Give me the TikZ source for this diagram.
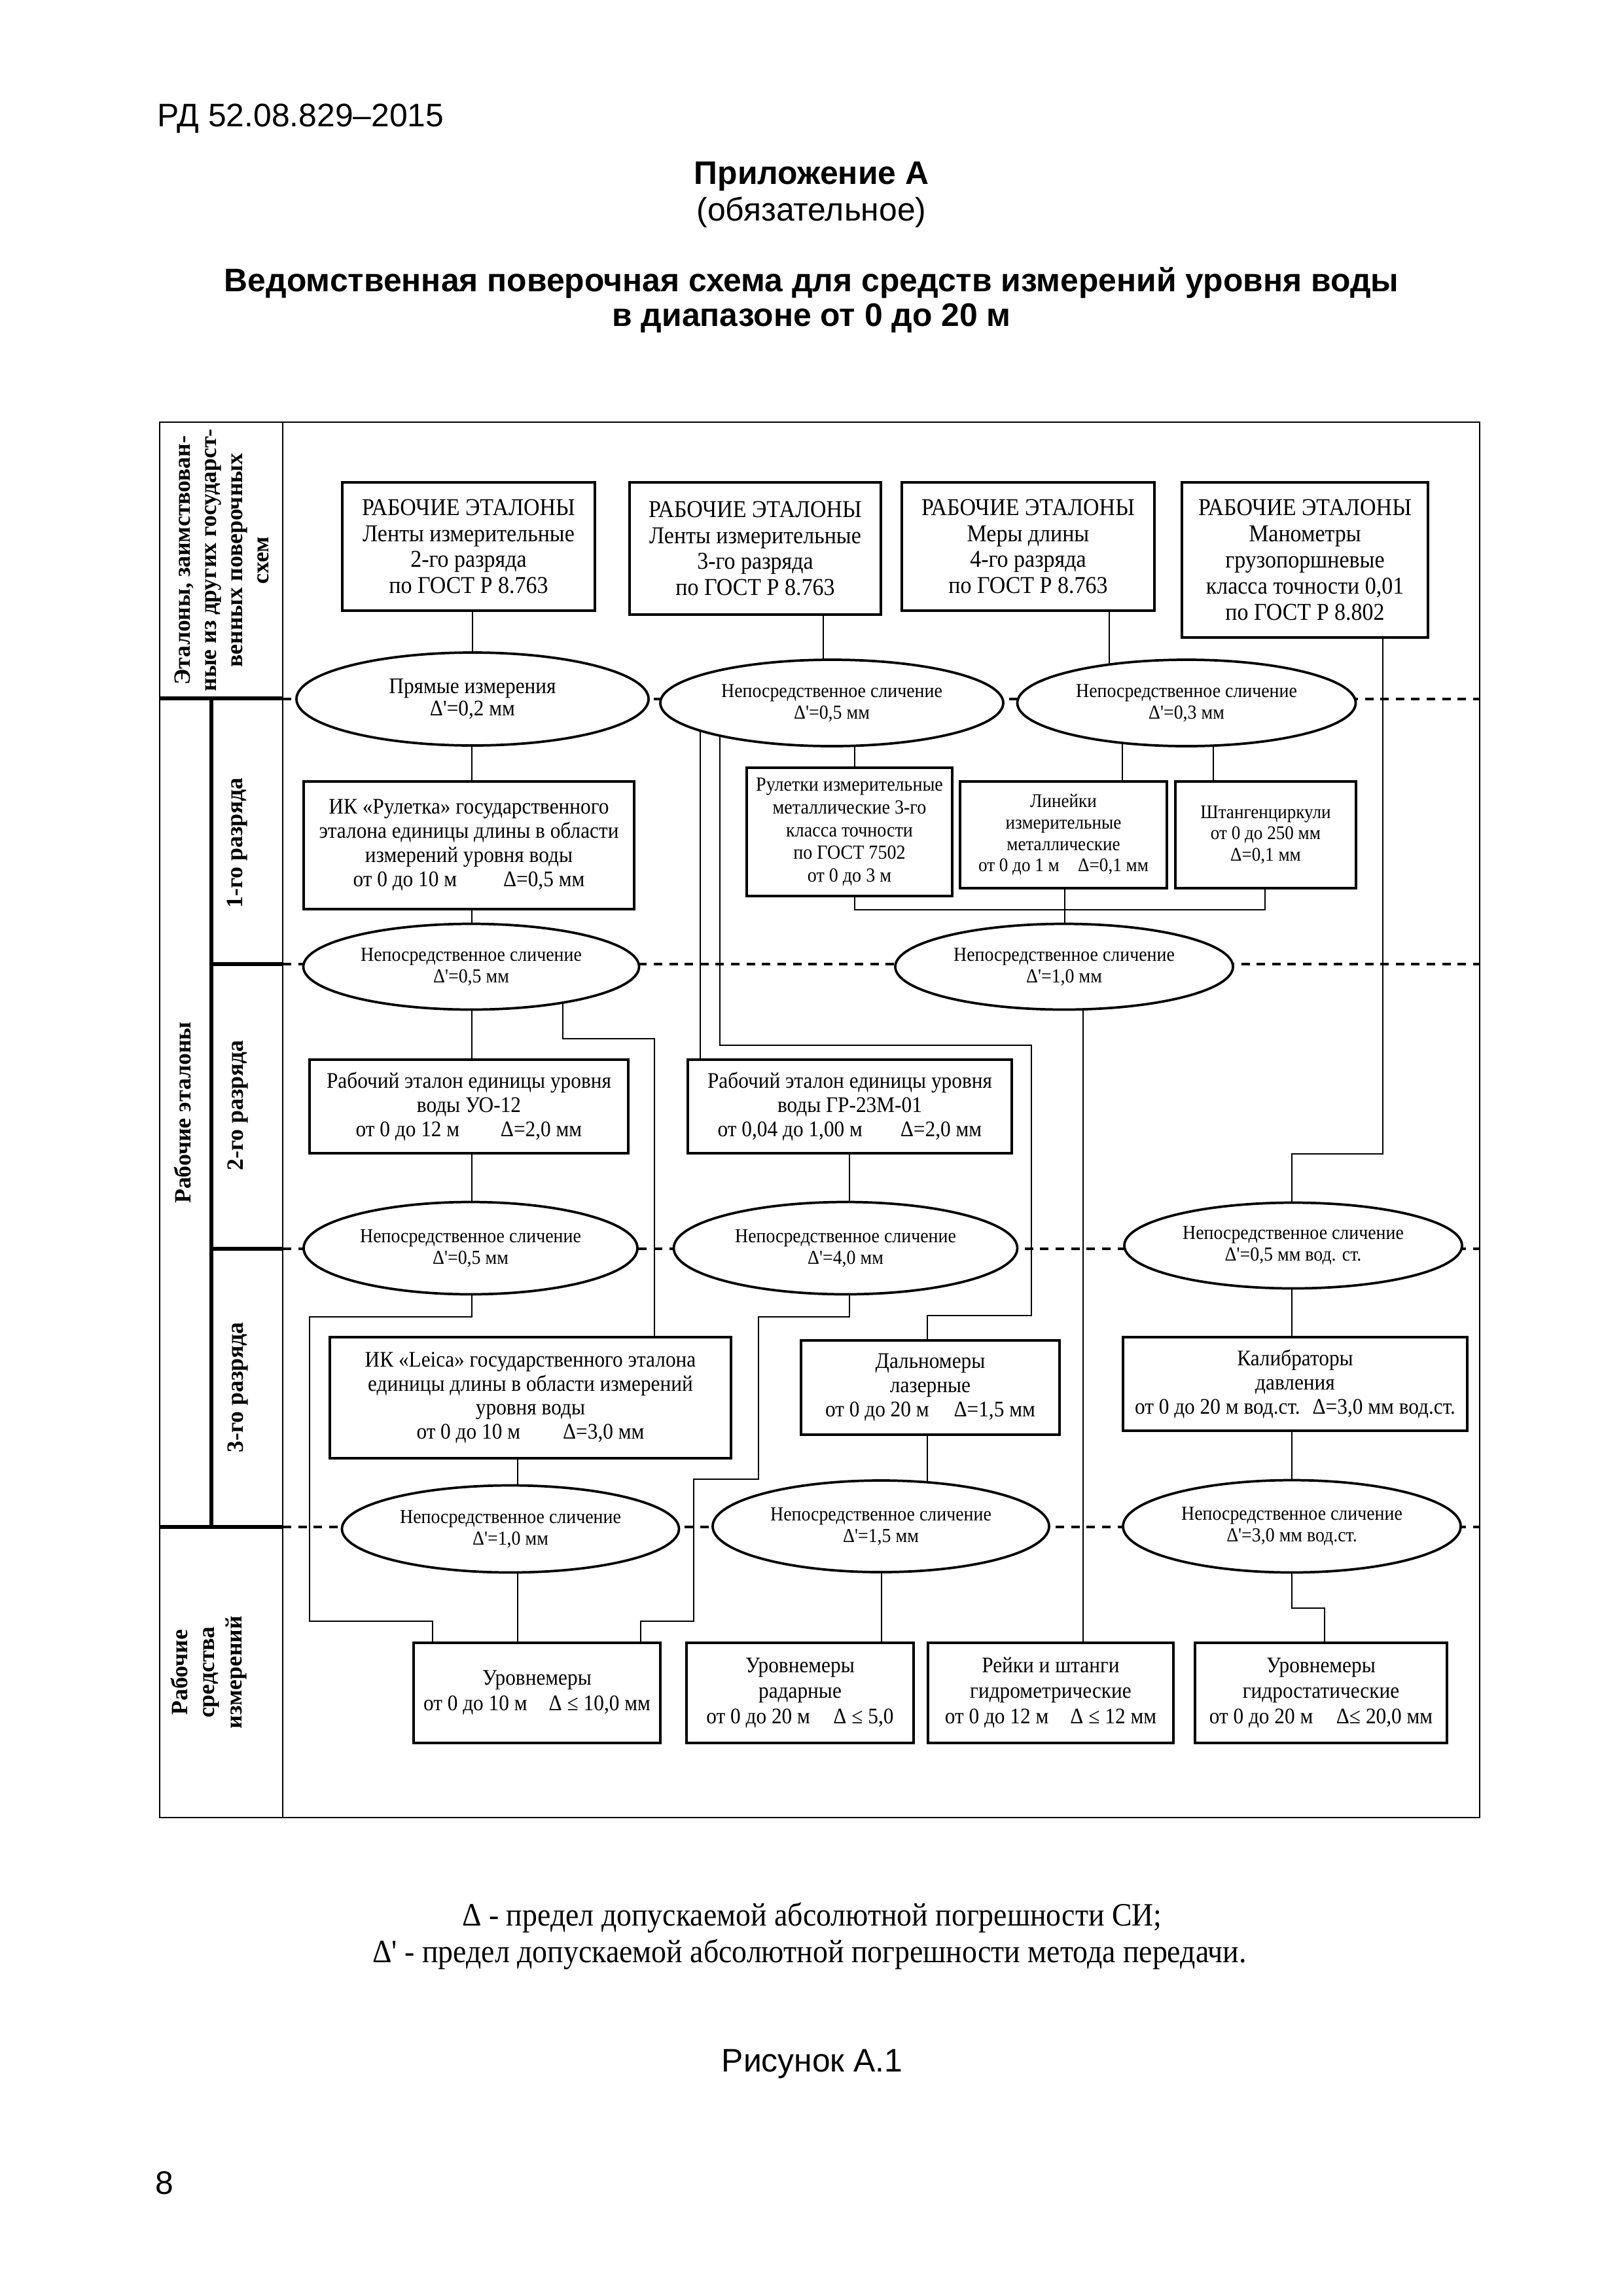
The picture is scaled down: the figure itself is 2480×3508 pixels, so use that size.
\documentclass[tikz,border=0pt]{standalone}
\usepackage{fontspec}
\usetikzlibrary{shapes.geometric,backgrounds}
\newfontfamily\cond[FakeStretch=0.92]{Liberation Serif}
\newfontfamily\serifb{Liberation Serif}
\newfontfamily\arialf{Liberation Sans}
\newdimen\uu
\uu=0.084677mm
\newcommand\fhd{\cond\fontsize{8.9}{9.6}\selectfont}
\newcommand\fel{\cond\fontsize{7.3}{7.9}\selectfont}
\newcommand\fmd{\cond\fontsize{8.2}{8.9}\selectfont}
\newcommand\fbt{\cond\fontsize{8.2}{9.4}\selectfont}
\newcommand\fsm{\cond\fontsize{7.35}{8.4}\selectfont}
\newcommand\fxs{\cond\fontsize{7.1}{7.9}\selectfont}
\newcommand\flb{\serifb\bfseries\fontsize{8.6}{9.6}\selectfont}
\begin{document}
\begin{tikzpicture}[x=0.084677mm, y=-0.084677mm,
  box/.style={draw, line width=0.8pt, fill=white, inner sep=0pt, align=center},
  ell/.style={draw, ellipse, line width=0.9pt, fill=white, inner sep=0pt, align=center, font=\fel},
  conn/.style={line width=0.6pt},
  dsh/.style={line width=0.9pt, dash pattern=on 1.1mm off 0.9mm},
  thk/.style={line width=1.4pt},
  frm/.style={line width=0.7pt},
  lbl/.style={rotate=90, align=center, font=\flb, inner sep=0pt}]
\useasboundingbox (0,0) rectangle (2480,3508);
\begin{scope}[on background layer]
  \fill[white] (0,0) rectangle (2480,3508);
\end{scope}

% ---------- page texts ----------
\node[anchor=base west, inner sep=0pt, font=\arialf\fontsize{12}{14}\selectfont] (HD) at (240,193) {РД 52.08.829–2015};
\node[anchor=base, inner sep=0pt, font=\arialf\bfseries\fontsize{12}{14}\selectfont] (AP) at (1240,281) {Приложение А};
\node[anchor=base, inner sep=0pt, font=\arialf\fontsize{12}{14}\selectfont] (OB) at (1240,337) {(обязательное)};
\node[anchor=base, inner sep=0pt, font=\arialf\bfseries\fontsize{12}{14}\selectfont] (T1) at (1240,445) {Ведомственная поверочная схема для средств измерений уровня воды};
\node[anchor=base, inner sep=0pt, font=\arialf\bfseries\fontsize{12}{14}\selectfont] (T2) at (1240,498) {в диапазоне от 0 до 20 м};

\node[anchor=base, inner sep=0pt, font=\cond\fontsize{12}{14}\selectfont] (F1) at (1241,2942) {Δ - предел допускаемой абсолютной погрешности СИ;};
\node[anchor=base, inner sep=0pt, font=\cond\fontsize{12}{14}\selectfont] (F2) at (1237,2998) {Δ' - предел допускаемой абсолютной погрешности метода передачи.};
\node[anchor=base, inner sep=0pt, font=\arialf\fontsize{12}{14}\selectfont] (FIG) at (1241,3165) {Рисунок А.1};
\node[anchor=base west, inner sep=0pt, font=\arialf\fontsize{12}{14}\selectfont] (PG) at (237,3352) {8};

% ---------- frame ----------
\draw[frm] (244,645) rectangle (2261,2777);
\draw[line width=0.5pt] (432,645) -- (432,2777);
\draw[thk] (244,1067) -- (432,1067);
\draw[thk] (323,1067) -- (323,2333);
\draw[thk] (323,1473) -- (432,1473);
\draw[thk] (323,1908) -- (432,1908);
\draw[thk] (244,2333) -- (432,2333);

\node[lbl] (LH) at (339,856) {Эталоны, заимствован-\\ные из других государст-\\венных поверочных\\схем};
\node[lbl] (LW) at (279,1700) {Рабочие эталоны};
\node[lbl] (L1) at (363,1288) {1-го разряда};
\node[lbl] (L2) at (363,1689) {2-го разряда};
\node[lbl] (L3) at (363,2120) {3-го разряда};
\node[lbl, font=\serifb\bfseries\fontsize{8.6}{10}\selectfont] (LS) at (319,2555) {Рабочие\\средства\\измерений};

% ---------- boxes ----------
\node[box, minimum width=386\uu, minimum height=196\uu, font=\fhd] (B1) at (716,835) {РАБОЧИЕ ЭТАЛОНЫ\\Ленты измерительные\\2-го разряда\\по ГОСТ Р 8.763};
\node[box, minimum width=384\uu, minimum height=202\uu, font=\fhd] (B2) at (1154,838) {РАБОЧИЕ ЭТАЛОНЫ\\Ленты измерительные\\3-го разряда\\по ГОСТ Р 8.763};
\node[box, minimum width=386\uu, minimum height=196\uu, font=\fhd] (B3) at (1571,835) {РАБОЧИЕ ЭТАЛОНЫ\\Меры длины\\4-го разряда\\по ГОСТ Р 8.763};
\node[box, minimum width=376\uu, minimum height=237\uu, font=\fhd] (B4) at (1994,855.5) {РАБОЧИЕ ЭТАЛОНЫ\\Манометры\\грузопоршневые\\класса точности 0,01\\по ГОСТ Р 8.802};

\node[box, minimum width=505\uu, minimum height=195\uu, font=\fmd] (R1) at (716.5,1291.5) {ИК «Рулетка» государственного\\эталона единицы длины в области\\измерений уровня воды\\от 0 до 10 м\hspace{6mm}Δ=0,5 мм};
\node[box, minimum width=314\uu, minimum height=196\uu, font=\fsm] (RR) at (1298,1271) {Рулетки измерительные\\металлические 3-го\\класса точности\\по ГОСТ 7502\\от 0 до 3 м};
\node[box, minimum width=316\uu, minimum height=163\uu, font=\fxs] (RL) at (1625,1275.5) {Линейки\\измерительные\\металлические\\от 0 до 1 м\hspace{2.4mm}Δ=0,1 мм};
\node[box, minimum width=276\uu, minimum height=163\uu, font=\fxs] (RS) at (1934,1275.5) {Штангенциркули\\от 0 до 250 мм\\Δ=0,1 мм};

\node[box, minimum width=487\uu, minimum height=143\uu, font=\fmd] (UO) at (716.5,1690.5) {Рабочий эталон единицы уровня\\воды УО-12\\от 0 до 12 м\hspace{5.3mm}Δ=2,0 мм};
\node[box, minimum width=495\uu, minimum height=143\uu, font=\fmd] (GR) at (1298.5,1690.5) {Рабочий эталон единицы уровня\\воды ГР-23М-01\\от 0,04 до 1,00 м\hspace{4.9mm}Δ=2,0 мм};

\node[box, minimum width=613\uu, minimum height=185\uu, font=\fmd] (LE) at (810.5,2135.5) {ИК «Leica» государственного эталона\\единицы длины в области измерений\\уровня воды\\от 0 до 10 м\hspace{5.5mm}Δ=3,0 мм};
\node[box, minimum width=395\uu, minimum height=144\uu, font=\fmd] (DL) at (1421.5,2120) {Дальномеры\\лазерные\\от 0 до 20 м\hspace{3.2mm}Δ=1,5 мм};
\node[box, minimum width=526\uu, minimum height=143\uu, font=\fmd] (KL) at (1979,2114.5) {Калибраторы\\давления\\от 0 до 20 м вод.ст.\hspace{1.6mm}Δ=3,0 мм вод.ст.};

\node[box, minimum width=377\uu, minimum height=153\uu, font=\fbt] (U1) at (820.5,2586.5) {Уровнемеры\\от 0 до 10 м\hspace{2.8mm}Δ ≤ 10,0 мм};
\node[box, minimum width=347\uu, minimum height=153\uu, font=\fbt] (U2) at (1222.5,2586.5) {Уровнемеры\\радарные\\от 0 до 20 м\hspace{3mm}Δ ≤ 5,0};
\node[box, minimum width=375\uu, minimum height=153\uu, font=\fbt] (U3) at (1605.5,2586.5) {Рейки и штанги\\гидрометрические\\от 0 до 12 м\hspace{2.8mm}Δ ≤ 12 мм};
\node[box, minimum width=385\uu, minimum height=153\uu, font=\fbt] (U4) at (2018.5,2586.5) {Уровнемеры\\гидростатические\\от 0 до 20 м\hspace{3mm}Δ≤ 20,0 мм};

% ---------- ellipses ----------
\node[ell, minimum width=538\uu, minimum height=142\uu, font=\cond\fontsize{8.2}{8}\selectfont] (E1) at (722,1068) {Прямые измерения\\Δ'=0,2 мм};
\node[ell, minimum width=524\uu, minimum height=132\uu] (E2) at (1271,1074) {Непосредственное сличение\\Δ'=0,5 мм};
\node[ell, minimum width=517\uu, minimum height=132\uu] (E3) at (1813,1074) {Непосредственное сличение\\Δ'=0,3 мм};
\node[ell, minimum width=513\uu, minimum height=131\uu] (E4) at (720,1477) {Непосредственное сличение\\Δ'=0,5 мм};
\node[ell, minimum width=516\uu, minimum height=131\uu] (E5) at (1626,1477) {Непосредственное сличение\\Δ'=1,0 мм};
\node[ell, minimum width=510\uu, minimum height=141\uu] (E6) at (719,1907) {Непосредственное сличение\\Δ'=0,5 мм};
\node[ell, minimum width=525\uu, minimum height=141\uu] (E7) at (1292,1907) {Непосредственное сличение\\Δ'=4,0 мм};
\node[ell, minimum width=516\uu, minimum height=131\uu] (E8) at (1976,1903) {Непосредственное сличение\\Δ'=0,5 мм вод. ст.};
\node[ell, minimum width=515\uu, minimum height=133\uu] (E9) at (780,2336) {Непосредственное сличение\\Δ'=1,0 мм};
\node[ell, minimum width=514\uu, minimum height=140\uu] (E10) at (1346,2332) {Непосредственное сличение\\Δ'=1,5 мм};
\node[ell, minimum width=516\uu, minimum height=141\uu] (E11) at (1974,2332) {Непосредственное сличение\\Δ'=3,0 мм вод.ст.};

% ---------- dashed level lines and connectors (behind) ----------
\begin{scope}[on background layer]
  \draw[dsh] (432,1068) -- (2261,1068);
  \draw[dsh] (432,1473) -- (2261,1473);
  \draw[dsh] (432,1908) -- (2261,1908);
  \draw[dsh] (432,2333) -- (2261,2333);
\end{scope}
\begin{scope}[on background layer, conn]
  \draw (B1.south -| E1.north) -- (E1.center);
  \draw (B2.south -| 1258,0) -- (E2.center -| 1258,0);
  \draw (B3.south -| 1695,0) -- (E3.center -| 1695,0);
  \draw (B4.south -| 2113,0) -- (2113,1763) -- (1974,1763) -- (E8.center -| 1974,0);
  \draw (E1.center -| 721,0) -- (R1.north -| 721,0);
  \draw (R1.south -| 721,0) -- (E4.center -| 721,0);
  \draw (E4.center -| 721,0) -- (UO.north -| 721,0);
  \draw (E4.center -| 860,0) -- (860,1587) -- (1000,1587) -- (LE.north -| 1000,0);
  \draw (UO.south -| 721,0) -- (E6.center -| 721,0);
  \draw (E6.center -| 721,0) -- (721,2012) -- (473,2012) -- (473,2477) -- (661,2477) -- (U1.north -| 661,0);
  \draw (E2.center -| 1306,0) -- (RR.north -| 1306,0);
  \draw (E2.center -| 1070,0) -- (GR.north -| 1070,0);
  \draw (E2.center -| 1100,0) -- (1100,1597) -- (1576,1597) -- (1576,2010) -- (1417,2010) -- (DL.north -| 1417,0);
  \draw (E3.center -| 1715,0) -- (RL.north -| 1715,0);
  \draw (E3.center -| 1854,0) -- (RS.north -| 1854,0);
  \draw (RR.south -| 1306,0) -- (1306,1390) -- (1933,1390) -- (RS.south -| 1933,0);
  \draw (RL.south -| 1627,0) -- (E5.center -| 1627,0);
  \draw (E5.center -| 1655,0) -- (U3.north -| 1655,0);
  \draw (GR.south -| 1298,0) -- (E7.center -| 1298,0);
  \draw (E7.center -| 1298,0) -- (1298,2012) -- (1159,2012) -- (1159,2260) -- (1060,2260) -- (1060,2477) -- (979,2477) -- (U1.north -| 979,0);
  \draw (E8.center -| 1974,0) -- (KL.north -| 1974,0);
  \draw (LE.south -| 791,0) -- (E9.center -| 791,0);
  \draw (DL.south -| 1417,0) -- (E10.center -| 1417,0);
  \draw (KL.south -| 1974,0) -- (E11.center -| 1974,0);
  \draw (E9.center -| 791,0) -- (U1.north -| 791,0);
  \draw (E10.center -| 1347,0) -- (U2.north -| 1347,0);
  \draw (E11.center -| 1974,0) -- (1974,2457) -- (2024,2457) -- (U4.north -| 2024,0);
\end{scope}
\end{tikzpicture}
\end{document}
